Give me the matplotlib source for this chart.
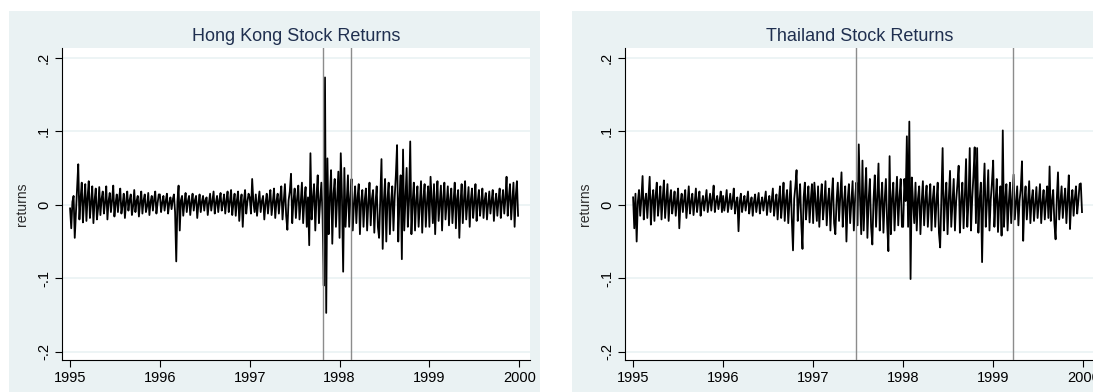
import numpy as np
import matplotlib.pyplot as plt
from matplotlib.patches import Rectangle

plt.rcParams['font.family'] = ['Liberation Sans', 'DejaVu Sans']

# returns, one list per year (units of 0.001)
hk_1995 = [-5, -32, 4, 12, -45, -10, 22, 55, -20, 8, 30, -24, 5, 28, -22, 10, 32, -18, 2, 25,
           -25, 6, 22, -20, -5, 24, -14, 8, 18, -12, 3, 25, -20, 5, 16, -10, 6, 26, -16, 2,
           14, -10, 8, 22, -12, 0, 15, -18, 4, 18, -8, 6, 14, -14, -2, 20, -10, 5, 12, -16,
           3, 18, -12, 6, 14, -10, -2, 16, -14, 4, 12, -8, 7, 18, -12, 2, 14]
hk_1996 = [14, -10, 3, 12, -8, 5, 15, -12, 2, 10, -6, 7, 14, -10, -77, 4, 26, -35, 6, 12,
           -15, 2, 16, -10, 5, 12, -14, 3, 15, -8, 6, 12, -18, 1, 14, -10, 4, 12, -8, 6,
           10, -14, 2, 15, -8, 5, 18, -12, 3, 12, -10, 6, 16, -8, 2, 14, -12, 5, 18, -10,
           4, 20, -14, 2, 15, -15, 6, 18, -22, 3, 14, -30, 5, 20, -12, 4, 15]
hk_1997 = [10, -12, 35, 4, -10, 14, -15, 3, 18, -10, 5, 12, -20, 2, 15, -12, 6, 20, -14, 3,
           22, -18, 5, 15, -12, 8, 25, -20, 4, 28, -15, -34, 6, 18, 42, -25, 5, 22, -18, 8,
           26, -20, 3, 30, -25, 6, 24, -30, 10, -55, 70, -20, 8, 28, -35, 12, 40, -25, 5, 30,
           -15, -110, 173, -147, 63, -40, 10, 47, -53, 15, 35, -30, 8, 45]
hk_1998 = [-45, 70, 10, -91, 50, -30, 5, 40, -30, 8, 35, -35, 2, 25, -25, 10, 28, -40, 4, 20,
           -30, 6, 22, -35, 3, 30, -28, 8, 20, -38, 2, 25, -30, -45, 10, 62, -60, 5, 35, -50,
           8, 30, -40, 4, 25, -35, 10, 40, 81, -50, 6, 40, -74, 75, -35, 8, 50, -30, 5, 86,
           -40, 3, 30, -35, 6, 25, -30, 2, 32, -38, 8, 28, -30, 4, 25]
hk_1999 = [-30, 38, 5, -25, 28, -40, 6, 32, -22, 3, 26, -35, 8, 30, -20, 2, 25, -28, 6, 22,
           -25, 4, 30, -32, 8, 20, -45, 3, 28, -25, 6, 32, -20, 2, 24, -30, 7, 22, -18, 3,
           28, -22, 5, 20, -15, 2, 22, -18, 6, 16, -20, 1, 18, -12, 5, 20, -22, 3, 15, -15,
           6, 22, -18, 4, 20, -12, 8, 38, -15, 10, 28, -20, 6, 30, -30, 12, 32, -15]

th_1995 = [10, -32, 15, -50, 4, 20, -15, 8, 39, -20, 5, 15, -18, 10, 38, -27, 6, 20, -22, 12,
           30, -15, 3, 25, -20, 8, 33, -18, 4, 28, -22, 6, 20, -12, 2, 18, -15, 5, 22, -32,
           3, 15, -10, 6, 20, -18, 2, 25, -12, 4, 15, -14, 3, 22, -10, 5, 18, -15, 2, 12,
           -8, 6, 20, -10, 3, 15, -8, 8, 26, -10, 4, 12, -6, 5, 18, -10]
th_1996 = [12, -8, 4, 20, -10, 2, 15, -6, 5, 22, -12, 3, 10, -36, 4, 15, -10, 2, 12, -8,
           5, 18, -12, 1, 10, -15, 4, 14, -10, 3, 16, -12, 2, 10, -8, 5, 18, -14, 3, 12,
           -10, 6, 22, -15, 2, 14, -20, 5, 25, -18, 3, 30, -22, 6, 20, -25, 4, 32, -20, -62,
           8, 25, 47, -22, 5, 28, -26, -60, 10, 30, -20, 4, 25, -24, 6, 28]
th_1997 = [-25, 30, 4, -22, 25, -30, 6, 28, -20, 2, 32, -28, 5, 22, -35, 8, 36, -25, -40, 5,
           30, -22, 10, 44, -30, 3, 25, -50, 6, 28, -25, 4, 32, -35, 8, 30, -28, 82, 10, -40,
           60, -35, 12, 50, -45, 6, 35, -30, -54, 8, 40, -30, 10, 56, -35, 4, 30, -38, 6, 35,
           -25, -63, 66, -40, 8, 30, -35, 5, 38, -28, 10, 35, -30]
th_1998 = [-30, 35, 5, 93, -30, 113, -101, 37, 4, -25, 30, -35, 8, 25, -40, 3, 32, -28, 6, 26,
           -30, 2, 28, -35, 7, 25, -30, 4, 30, -38, -58, 10, 77, -35, 5, 30, -40, 8, 46, -30,
           3, 35, -35, 6, 28, 53, -38, 4, 30, -32, 10, 62, -30, 5, 77, -35, 8, 40, 78, -25,
           77, -38, 6, 30, -78, 12, 56, -30, 4, 47, -35, 6, 30]
th_1999 = [60, -30, 5, 35, -37, 4, 25, -42, 101, -30, 6, 28, -35, 3, 30, -25, 8, 41, -20, 2,
           25, -28, 6, 22, 59, -49, 5, 25, -20, 3, 32, -25, 6, 20, -22, 2, 24, -18, 5, 28,
           -25, 3, 20, -20, 6, 25, -18, 52, -22, 4, 20, -25, -47, 8, 44, -20, 2, 25, -18, 5,
           22, -25, 6, 40, -33, 3, 20, -15, 8, 25, -12, 6, 28, 29, -10]

years = [1995, 1996, 1997, 1998, 1999]
hk_years = [hk_1995, hk_1996, hk_1997, hk_1998, hk_1999]
th_years = [th_1995, th_1996, th_1997, th_1998, th_1999]

hk_events = [1997.82, 1998.13]
th_events = [1997.48, 1999.22]

titles = ['Hong Kong Stock Returns', 'Thailand Stock Returns']
xticks = [1995, 1996, 1997, 1998, 1999, 2000]
yticks = [-0.2, -0.1, 0, 0.1, 0.2]
ytick_labels = ['-.2', '-.1', '0', '.1', '.2']


def to_series(year_lists):
    t, r = [], []
    for y, vals in zip(years, year_lists):
        n = len(vals)
        t.extend(y + np.arange(n) / n)
        r.extend(np.array(vals) / 1000.0)
    return np.array(t), np.array(r)


W, H = 1093, 392
fig = plt.figure(figsize=(W / 100, H / 100), dpi=100)
bg = '#EAF2F3'

# stata-style outer panels
for x0 in [9, 572]:
    fig.patches.append(Rectangle((x0 / W, 0), 531 / W, 381 / H, transform=fig.transFigure,
                                 facecolor=bg, edgecolor='none', zorder=-1))

axes = [fig.add_axes([62 / W, 32 / H, 468 / W, 312 / H]),
        fig.add_axes([625 / W, 32 / H, 469 / W, 312 / H])]

for ax, data, events, title in zip(axes, [hk_years, th_years], [hk_events, th_events], titles):
    t, r = to_series(data)
    ax.set_facecolor('white')
    for g in yticks:
        ax.axhline(g, color=bg, lw=1.2, zorder=0)
    ax.plot(t, r, color='black', lw=1.3, zorder=2)
    for e in events:
        ax.axvline(e, color='#8c8c8c', lw=1, zorder=3)
    ax.set_xlim(1994.91, 2000.12)
    ax.set_ylim(-0.211, 0.213)
    ax.set_xticks(xticks)
    ax.set_xticklabels([str(x) for x in xticks], fontsize=10.5)
    ax.set_yticks(yticks)
    ax.set_yticklabels(ytick_labels, fontsize=10.5, rotation=90, va='center')
    ax.tick_params(direction='out', length=5, width=0.8, colors='black', pad=3)
    ax.spines['top'].set_visible(False)
    ax.spines['right'].set_visible(False)
    ax.set_ylabel('returns', fontsize=10, color='#2b2b2b', labelpad=6)
    ax.set_title(title, fontsize=13, color='#1F2F4F', pad=5)

fig.savefig('out.png', dpi=100, facecolor='white')
